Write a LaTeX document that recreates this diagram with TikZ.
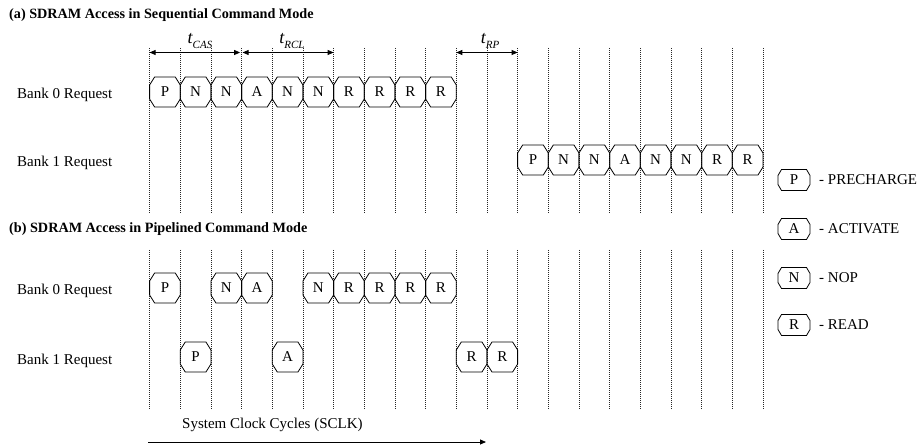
\documentclass[tikz,border=0pt]{standalone}
\usepackage{fontspec}
\setmainfont{Liberation Serif}
\usetikzlibrary{arrows.meta}
\newcommand{\hexbox}[8]{% name, xl, xr, yc, half height, bevel x, bevel y, letter
  \draw[boxline] ({#2+#6},{#4-#5}) -- ({#3-#6},{#4-#5}) -- ({#3},{#4-#5+#7}) -- ({#3},{#4+#5-#7})
    -- ({#3-#6},{#4+#5}) -- ({#2+#6},{#4+#5}) -- ({#2},{#4+#5-#7}) -- ({#2},{#4-#5+#7}) -- cycle;
  \node[lett] (#1) at ({(#2+#3)/2},{#4}) {#8};}
\newcommand{\cell}[4]{% name, column, yc, letter
  \pgfmathsetmacro{\cxl}{149.6+30.67*#2}%
  \pgfmathsetmacro{\cxr}{149.6+30.67*(#2+1)}%
  \hexbox{#1}{\cxl}{\cxr}{#3}{15}{5}{8}{#4}}
\begin{document}
\begin{tikzpicture}[x=1pt,y=-1pt,
  gridline/.style={dash pattern=on 1pt off 1pt, line width=0.8pt, black!85},
  boxline/.style={line width=0.8pt, black},
  lett/.style={inner sep=0pt, font=\fontsize{15}{17}\selectfont},
  lbl/.style={anchor=base west, inner sep=0pt, font=\fontsize{15}{17}\selectfont},
  legtxt/.style={anchor=west, inner sep=0pt, font=\fontsize{15}{17}\selectfont},
  ttl/.style={anchor=base west, inner sep=0pt, font=\fontsize{14.2}{16}\selectfont\bfseries},
  tlabel/.style={inner sep=0pt},
  tarrow/.style={{Triangle[length=6pt,width=5pt]}-{Triangle[length=6pt,width=5pt]}, line width=0.8pt},
  clkarrow/.style={-{Triangle[length=6pt,width=5pt]}, line width=0.8pt}]
\useasboundingbox (0,0) rectangle (921,446);
\newcommand{\tsub}[1]{{\fontsize{18}{18}\selectfont\itshape t}\raisebox{-4.5pt}{\fontsize{11}{11}\selectfont\itshape #1}}

% grid
\foreach \i in {0,...,20}{
  \draw[gridline] ({149.6+30.67*\i},48) -- ({149.6+30.67*\i},213);
  \draw[gridline] ({149.6+30.67*\i},250) -- ({149.6+30.67*\i},410);
}

% titles
\node[ttl] (ta) at (9,18.5) {(a) SDRAM Access in Sequential Command Mode};
\node[ttl] (tb) at (9,233) {(b) SDRAM Access in Pipelined Command Mode};

% row labels
\node[lbl] (l1) at (17,99) {Bank 0 Request};
\node[lbl] (l2) at (17,167) {Bank 1 Request};
\node[lbl] (l3) at (17,295) {Bank 0 Request};
\node[lbl] (l4) at (17,364) {Bank 1 Request};

% timing arrows
\coordinate (c0) at (149.6,52.5);
\coordinate (c3) at (241.6,52.5);
\coordinate (c6) at (333.6,52.5);
\coordinate (c10) at (456.3,52.5);
\coordinate (c12) at (517.6,52.5);
\draw[tarrow] (c0) -- ([xshift=-1.5pt]c3);
\draw[tarrow] ([xshift=1pt]c3) -- (c6);
\draw[tarrow] (c10) -- (c12);
\node[tlabel] (tcas) at (200,41) {\tsub{CAS}};
\node[tlabel] (trcl) at (292,41) {\tsub{RCL}};
\node[tlabel] (trp) at (490,41) {\tsub{RP}};

% (a) bank 0
\cell{a0}{0}{92}{P}
\cell{a1}{1}{92}{N}
\cell{a2}{2}{92}{N}
\cell{a3}{3}{92}{A}
\cell{a4}{4}{92}{N}
\cell{a5}{5}{92}{N}
\cell{a6}{6}{92}{R}
\cell{a7}{7}{92}{R}
\cell{a8}{8}{92}{R}
\cell{a9}{9}{92}{R}
% (a) bank 1
\cell{b0}{12}{160}{P}
\cell{b1}{13}{160}{N}
\cell{b2}{14}{160}{N}
\cell{b3}{15}{160}{A}
\cell{b4}{16}{160}{N}
\cell{b5}{17}{160}{N}
\cell{b6}{18}{160}{R}
\cell{b7}{19}{160}{R}
% (b) bank 0
\cell{c0b}{0}{288}{P}
\cell{c2b}{2}{288}{N}
\cell{c3b}{3}{288}{A}
\cell{c5b}{5}{288}{N}
\cell{c6b}{6}{288}{R}
\cell{c7b}{7}{288}{R}
\cell{c8b}{8}{288}{R}
\cell{c9b}{9}{288}{R}
% (b) bank 1
\cell{d1}{1}{357}{P}
\cell{d4}{4}{357}{A}
\cell{d10}{10}{357}{R}
\cell{d11}{11}{357}{R}

% legend
\hexbox{kp}{778}{810}{180}{10.5}{3.5}{6}{P}
\hexbox{ka}{778}{810}{229}{10.5}{3.5}{6}{A}
\hexbox{kn}{778}{810}{278}{10.5}{3.5}{6}{N}
\hexbox{kr}{778}{810}{325}{10.5}{3.5}{6}{R}
\node[legtxt] (lp) at (819,180) {- PRECHARGE};
\node[legtxt] (la) at (819,229) {- ACTIVATE};
\node[legtxt] (ln) at (819,278) {- NOP};
\node[legtxt] (lr) at (819,325) {- READ};

% clock arrow
\node[lbl] (clk) at (182,428) {System Clock Cycles (SCLK)};
\coordinate (k0) at (148,442);
\coordinate (k1) at (486,442);
\draw[clkarrow] (k0) -- (k1);
\end{tikzpicture}
\end{document}
